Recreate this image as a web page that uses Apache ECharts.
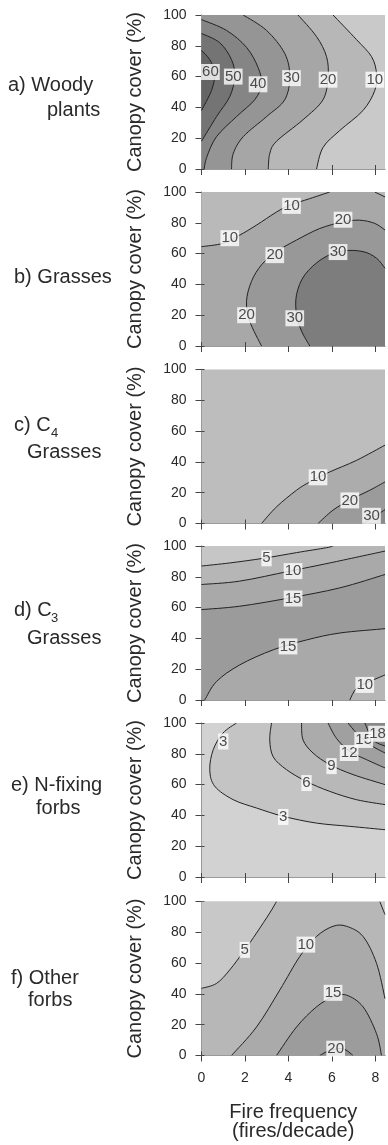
<!DOCTYPE html>
<html>
<head>
<meta charset="utf-8">
<script src="https://cdn.jsdelivr.net/npm/echarts@6/dist/echarts.min.js"></script>
<style>
  html, body { margin: 0; padding: 0; background: #fff; }
  #chart { width: 388px; height: 1145px; }
</style>
</head>
<body>
<div id="chart"></div>
<script>
// x = fire frequency (fires/decade), y = canopy cover (%)
const xTicks = [0, 2, 4, 6, 8];
const yTicks = [0, 20, 40, 60, 80, 100];
const xMax = 8.44;

// a) Woody plants
const woody10 = [[6.05,100],[7.13,84],[7.82,73],[8.05,62],[7.97,51],[7.43,38],[6.36,25],[5.59,14],[5.29,0]];
const woody20 = [[4.44,100],[5.29,86],[5.75,73],[5.82,60],[5.59,45],[4.67,32],[3.45,18],[3.14,10],[3.07,0]];
const woody30 = [[1.92,100],[2.99,90],[3.83,75],[4.06,60],[3.83,45],[2.99,34],[1.92,21],[1.46,10],[1.38,0]];
const woody40 = [[0,97],[1.15,90],[2.07,79],[2.6,66],[2.76,55],[2.45,45],[1.61,34],[0.69,21],[0.25,8],[0.12,0]];
const woody50 = [[0,88],[0.84,82],[1.38,71],[1.53,60],[1.3,47],[0.69,34],[0,18]];
const woody60 = [[0,77],[0.38,71],[0.61,62],[0.46,51],[0,38]];
const woodyLabels = [[0.41,63,'60'],[1.46,60,'50'],[2.6,55,'40'],[4.14,59,'30'],[5.82,58,'20'],[7.97,58,'10']];

// b) Grasses
const grass10a = [[0,64.5],[1.0,66.7],[1.76,72],[2.53,78.5],[3.45,87],[4.06,91.4],[4.98,95.7],[5.9,100]];
const grass10b = [[7.97,100],[8.44,96.8]];
const grass20 = [[2.76,0],[2.22,16],[2.07,29],[2.3,42],[2.76,52.7],[3.45,61.3],[4.37,68.8],[5.44,76.3],[6.51,80.6],[7.28,81.7],[7.97,79.6],[8.44,75.3]];
const grass30 = [[4.98,0],[4.6,9.7],[4.37,20.4],[4.37,33.3],[4.75,46.2],[5.59,57],[6.51,61.7],[7.43,61.3],[8.05,57],[8.44,50.5]];
const grassLabels = [[4.14,91,'10'],[1.3,70,'10'],[6.51,82,'20'],[3.37,59,'20'],[6.28,61,'30'],[2.07,20,'20'],[4.29,18,'30']];

// c) C4 grasses
const c4g10 = [[2.76,0],[3.45,10.8],[4.37,21.6],[4.98,27],[5.9,33.5],[7.13,41],[8.44,50.9]];
const c4g20 = [[5.36,0],[6.05,8.7],[6.82,15.2],[7.74,21.6],[8.44,27]];
const c4g30 = [[7.43,0],[8.05,5.4],[8.44,9]];
const c4Labels = [[5.36,30,'10'],[6.82,15,'20'],[7.82,5,'30']];

// d) C3 grasses
const c3g5 = [[0,87],[1.3,89],[2.84,92],[4.37,95.7],[5.75,98.9],[6.05,100]];
const c3g10a = [[0,75],[1.76,77.2],[4.06,83.7],[5.9,89],[8.44,96.7]];
const c3g15a = [[0,58.7],[1.76,60.9],[4.06,66.3],[6.36,72.8],[8.44,81.5]];
const c3g15b = [[0.15,0],[0.69,12],[1.76,22.8],[3.3,32.6],[4.83,39],[6.36,43.5],[8.44,46.3]];
const c3g10b = [[6.82,0],[7.13,7.6],[7.74,12],[8.44,16.3]];
const c3Labels = [[2.99,92,'5'],[4.21,83.7,'10'],[4.21,65.9,'15'],[3.98,34.8,'15'],[7.51,9.8,'10']];

// e) N-fixing forbs
const nfix3 = [[1.61,100],[0.99,93.5],[0.54,82.7],[0.38,69.7],[0.61,58.9],[1.46,50.2],[2.53,44.8],[3.76,39.4],[5.29,35],[6.82,32.9],[8.44,30.7]];
const nfix6 = [[3.22,100],[3.14,89],[3.3,78],[3.91,69.7],[4.83,62],[5.9,55.6],[7.13,50.2],[8.44,47]];
const nfix9 = [[4.6,100],[4.67,89],[5.13,80.5],[5.9,73],[6.97,66.5],[8.44,60]];
const nfix12 = [[5.82,100],[6.21,90],[6.82,81.6],[7.59,76.2],[8.44,70.8]];
const nfix15 = [[6.74,100],[7.13,93.5],[7.74,86],[8.44,80.5]];
const nfix18 = [[7.51,100],[7.89,89],[8.44,85]];
const nfixLabels = [[1.0,88,'3'],[3.76,39,'3'],[4.83,61,'6'],[5.98,72,'9'],[6.79,80.5,'12'],[7.46,89,'15'],[8.1,93,'18']];

// f) Other forbs
const other5a = [[3.45,100],[3.14,92.6],[2.53,79.5],[1.99,68.6],[1.3,55.6],[0.69,46.8],[0,43.6]];
const other5b = [[8.2,100],[8.44,91.5]];
const other10 = [[1.38,0],[2.53,18.5],[3.6,42.5],[4.52,64.3],[5.29,77.3],[6.05,83.9],[6.67,83.9],[7.43,77.3],[8.05,59.9],[8.44,37]];
const other15 = [[3.45,0],[4.37,18.5],[5.29,31.6],[6.05,38],[6.67,39.2],[7.43,31.6],[8.05,14.2],[8.28,0]];
const other20 = [[5.44,0],[5.9,3.3],[6.51,4.4],[6.97,0]];
const otherLabels = [[1.99,68.6,'5'],[4.8,72,'10'],[6.05,40.7,'15'],[6.17,4.4,'20']];

const corners = { BL: [0, 0], BR: [xMax, 0], TR: [xMax, 100], TL: [0, 100] };

// each panel: background band, then filled regions [line, closing corners, band], then lines on top
const panels = [
  { top: 15, bg: 0, colors: ['#c9c9c9','#b7b7b7','#a6a6a6','#959595','#858585','#747474','#656565'],
    fills: [[woody10,['BL','TL'],1],[woody20,['BL','TL'],2],[woody30,['BL','TL'],3],[woody40,['BL'],4],[woody50,[],5],[woody60,[],6]],
    lines: [woody10, woody20, woody30, woody40, woody50, woody60], labels: woodyLabels },
  { top: 192, bg: 1, colors: ['#b9b9b9','#a8a8a8','#989898','#7d7d7d'],
    fills: [[grass10a,['TL'],0],[grass10b,['TR'],0],[grass20,['BR'],2],[grass30,['BR'],3]],
    lines: [grass10a, grass10b, grass20, grass30], labels: grassLabels },
  { top: 369.5, bg: 0, colors: ['#bdbdbd','#acacac','#9b9b9b','#8a8a8a'],
    fills: [[c4g10,['BR'],1],[c4g20,['BR'],2],[c4g30,['BR'],3]],
    lines: [c4g10, c4g20, c4g30], labels: c4Labels },
  { top: 546, bg: 0, colors: ['#c6c6c6','#b6b6b6','#a9a9a9','#9b9b9b'],
    fills: [[c3g5,['TR','BR','BL'],1],[c3g10a,['BR','BL'],2],[c3g15a,['BR','BL'],3],[c3g15b,['BR'],2],[c3g10b,['BR'],1]],
    lines: [c3g5, c3g10a, c3g15a, c3g15b, c3g10b], labels: c3Labels },
  { top: 723, bg: 0, colors: ['#d2d2d2','#c4c4c4','#b8b8b8','#ababab','#a0a0a0','#949494','#888888'],
    fills: [[nfix3,['TR'],1],[nfix6,['TR'],2],[nfix9,['TR'],3],[nfix12,['TR'],4],[nfix15,['TR'],5],[nfix18,['TR'],6]],
    lines: [nfix3, nfix6, nfix9, nfix12, nfix15, nfix18], labels: nfixLabels },
  { top: 901.5, bg: 1, colors: ['#c8c8c8','#b7b7b7','#aaaaaa','#9c9c9c','#8e8e8e'],
    fills: [[other5a,['TL'],0],[other5b,['TR'],0],[other10,['BR'],2],[other15,[],3],[other20,[],4]],
    lines: [other5a, other5b, other10, other15, other20], labels: otherLabels }
];

const FONT = "'Liberation Sans', Arial, sans-serif";
const TXT = '#2a2a2a';

// smooth curve through pixel points (Catmull-Rom as cubic Beziers)
function curvePath(p) {
  let d = 'M' + p[0][0] + ' ' + p[0][1];
  for (let i = 0; i < p.length - 1; i++) {
    const p0 = p[i - 1] || p[i], p1 = p[i], p2 = p[i + 1], p3 = p[i + 2] || p2;
    const c1 = [p1[0] + (p2[0] - p0[0]) / 6, p1[1] + (p2[1] - p0[1]) / 6];
    const c2 = [p2[0] - (p3[0] - p1[0]) / 6, p2[1] - (p3[1] - p1[1]) / 6];
    d += ' C' + c1[0] + ' ' + c1[1] + ' ' + c2[0] + ' ' + c2[1] + ' ' + p2[0] + ' ' + p2[1];
  }
  return d;
}

const grids = [], xAxes = [], yAxes = [], series = [];
const last = panels.length - 1;
const frame = { show: true, lineStyle: { color: '#9a9a9a', width: 1 } };

panels.forEach((pn, i) => {
  grids.push({
    left: 201.5, top: pn.top, width: 183.5, height: 154,
    show: true, backgroundColor: pn.colors[pn.bg], borderWidth: 0,
    outerBoundsMode: 'none'
  });
  xAxes.push({
    gridIndex: i, type: 'value', min: 0, max: xMax, position: 'bottom',
    name: i === last ? 'Fire frequency\n(fires/decade)' : '',
    nameLocation: 'middle', nameGap: 47,
    nameTextStyle: { fontSize: 20, lineHeight: 19, color: TXT, fontFamily: FONT },
    axisLine: frame,
    axisTick: { show: true, length: 6, customValues: xTicks, lineStyle: { color: '#444' } },
    axisLabel: { show: i === last, customValues: xTicks, margin: 16, fontSize: 14, color: TXT, fontFamily: FONT },
    splitLine: { show: false }
  });
  xAxes.push({
    gridIndex: i, type: 'value', min: 0, max: xMax, position: 'top',
    axisLine: frame,
    axisTick: { show: true, length: 4, customValues: xTicks, lineStyle: { color: '#444' } },
    axisLabel: { show: false },
    splitLine: { show: false }
  });
  yAxes.push({
    gridIndex: i, type: 'value', min: 0, max: 100, interval: 20,
    name: 'Canopy cover (%)', nameLocation: 'middle', nameGap: 56,
    nameTextStyle: { fontSize: 20, color: TXT, fontFamily: FONT },
    axisLine: frame,
    axisTick: { show: true, length: 6, lineStyle: { color: '#444' } },
    axisLabel: { margin: 15, fontSize: 14, color: TXT, fontFamily: FONT },
    splitLine: { show: false }
  });
  yAxes.push({
    gridIndex: i, type: 'value', min: 0, max: 100, interval: 20, position: 'right',
    axisLine: frame,
    axisTick: { show: true, length: 3, lineStyle: { color: '#444' } },
    axisLabel: { show: false },
    splitLine: { show: false }
  });

  const items = pn.fills.map(f => ({ kind: 'fill', pts: f[0], close: f[1], color: pn.colors[f[2]] }))
    .concat(pn.lines.map(l => ({ kind: 'line', pts: l })));

  series.push({
    type: 'custom', xAxisIndex: 2 * i, yAxisIndex: 2 * i, clip: true, silent: true,
    data: items.map((_, k) => [k, 0]),
    renderItem: function (params, api) {
      const it = items[params.dataIndex];
      const px = it.pts.map(p => api.coord(p));
      let d = curvePath(px);
      if (it.kind === 'fill') {
        it.close.forEach(c => { const q = api.coord(corners[c]); d += ' L' + q[0] + ' ' + q[1]; });
        d += ' Z';
        return { type: 'path', shape: { pathData: d }, style: { fill: it.color, stroke: null } };
      }
      return { type: 'path', shape: { pathData: d }, style: { fill: null, stroke: '#222', lineWidth: 1 } };
    }
  });

  series.push({
    type: 'scatter', xAxisIndex: 2 * i, yAxisIndex: 2 * i, z: 5, silent: true,
    symbol: 'rect', symbolSize: 1, itemStyle: { color: 'rgba(0,0,0,0)' },
    data: pn.labels.map(l => ({ value: [l[0], l[1]], name: l[2] })),
    label: {
      show: true, position: 'inside', formatter: '{b}',
      backgroundColor: '#fff', padding: [1, 1, 0, 1],
      fontSize: 15, color: '#222', fontFamily: FONT
    }
  });
});

// panel titles
const titles = [
  [8, 85, 'a) Woody'], [47, 110, 'plants'],
  [14, 277, 'b) Grasses'],
  [14, 425, 'c) C'], [27, 452, 'Grasses'],
  [14, 610, 'd) C'], [27, 638, 'Grasses'],
  [11, 785, 'e) N-fixing'], [36, 808, 'forbs'],
  [11, 978, 'f) Other'], [28, 1000, 'forbs']
];
const subs = [[51, 433, '4'], [51, 618, '3']];

const graphic = titles.map(t => ({
  type: 'text', x: t[0], y: t[1],
  style: { text: t[2], fontSize: 20, fontFamily: FONT, fill: TXT, verticalAlign: 'middle' }
})).concat(subs.map(s => ({
  type: 'text', x: s[0], y: s[1],
  style: { text: s[2], fontSize: 13, fontFamily: FONT, fill: TXT, verticalAlign: 'middle' }
})));

const chart = echarts.init(document.getElementById('chart'));
chart.setOption({
  animation: false,
  textStyle: { fontFamily: FONT },
  grid: grids,
  xAxis: xAxes,
  yAxis: yAxes,
  series: series,
  graphic: graphic
});
</script>
</body>
</html>
